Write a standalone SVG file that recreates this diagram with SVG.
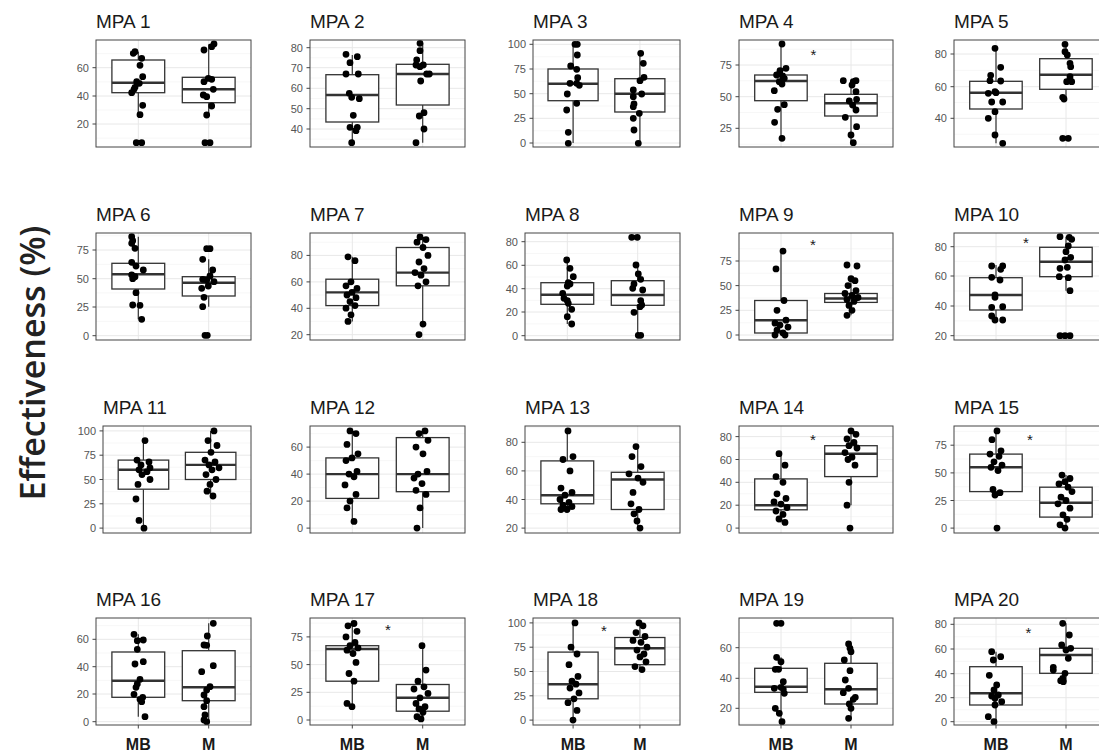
<svg xmlns="http://www.w3.org/2000/svg" width="1099" height="755" viewBox="0 0 1099 755">
<style>
.bg{fill:#fff}
.gmaj{stroke:#e8e8e8;stroke-width:1;fill:none}
.gmin{stroke:#f4f4f4;stroke-width:0.7;fill:none}
.frame{fill:none;stroke:#444;stroke-width:1}
.box{fill:#fff;stroke:#333;stroke-width:1.3}
.med{stroke:#333;stroke-width:2.4;fill:none}
.wh{stroke:#333;stroke-width:1.2;fill:none}
.pts{fill:none;stroke:#000;stroke-width:6.8;stroke-linecap:round}
.tk{stroke:#444;stroke-width:1;fill:none}
.tl{font-family:"Liberation Sans",Arial,sans-serif;font-size:11px;fill:#555;text-anchor:end}
.ti{font-family:"Liberation Sans",Arial,sans-serif;font-size:19px;fill:#1a1a1a}
.xl{font-family:"Liberation Sans",Arial,sans-serif;font-size:16px;font-weight:bold;fill:#1a1a1a;text-anchor:middle}
.st{font-family:"Liberation Sans",Arial,sans-serif;font-size:15px;fill:#1a1a1a;text-anchor:middle}
.yl{font-family:"Open Sans","Liberation Sans",sans-serif;font-size:34px;font-weight:600;fill:#222;text-anchor:middle}
</style>
<rect width="1099" height="755" fill="#fff"/>
<text class="yl" transform="translate(45,363) rotate(-90)">Effectiveness (%)</text>

<g id="mpa1" transform="translate(96,40)">
<rect class="bg" width="155" height="107"/>
<path class="gmin" d="M0 13.6h155M0 41.9h155M0 70h155M0 98.1h155"/>
<path class="gmaj" d="M0 27.7h155M0 56h155M0 84h155M42.3 0v107M112.7 0v107"/>
<path class="wh" d="M42.3 11.7V20M42.3 52.7V75M112.7 4.3V37.3M112.7 62.7V75"/>
<rect class="box" x="15.9" y="20" width="52.8" height="32.7"/>
<rect class="box" x="86.3" y="37.3" width="52.8" height="25.4"/>
<path class="med" d="M15.9 42.7h52.8M86.3 49.3h52.8"/>
<path class="pts" d="M39 11.7h0M37.3 13.3h0M45.7 18.3h0M44 25.3h0M46.7 36.7h0M40.7 41.7h0M43.3 43.3h0M39 47.3h0M35.7 52.7h0M38 49.3h0M46.7 65.3h0M44 74.7h0M40.3 102.7h0M45.7 102.7h0M118 4h0M115.7 6.7h0M108 10h0M112.3 38.3h0M108 41.7h0M115.7 39.3h0M117.3 49.3h0M107.3 55h0M110.7 56.7h0M115.7 66h0M110.7 75h0M109 102.7h0M114 102.7h0"/>
<rect class="frame" width="155" height="107"/>
<path class="tk" d="M-3.5 27.7h3.5M-3.5 56h3.5M-3.5 84h3.5"/>
<text class="tl" x="-7" y="31.7">60</text><text class="tl" x="-7" y="60">40</text><text class="tl" x="-7" y="88">20</text>
<text class="ti" x="0" y="-12">MPA 1</text>
</g>

<g id="mpa2" transform="translate(310,40)">
<rect class="bg" width="155" height="107"/>
<path class="gmin" d="M0 17.7h155M0 38h155M0 58.5h155M0 78.9h155M0 99.1h155"/>
<path class="gmaj" d="M0 7.7h155M0 27.7h155M0 48.3h155M0 68.7h155M0 89h155M42.3 0v107M112.7 0v107"/>
<path class="wh" d="M42.3 15V34.7M42.3 82V102.7M112.7 3.3V24.3M112.7 65V102.7"/>
<rect class="box" x="15.9" y="34.7" width="52.8" height="47.3"/>
<rect class="box" x="86.3" y="24.3" width="52.8" height="40.7"/>
<path class="med" d="M15.9 55h52.8M86.3 34h52.8"/>
<path class="pts" d="M36 14.3h0M47.3 16.7h0M40 22.7h0M36 34h0M48.3 34h0M39.3 53.3h0M41.7 57.3h0M49.3 58.7h0M43.3 75.3h0M40 87.3h0M47.3 87.3h0M46 90.7h0M41.7 102.7h0M110 3.3h0M110 10.7h0M106.7 20h0M106 25h0M113.3 25h0M110 26.7h0M116.7 34h0M119.3 34h0M110.7 41h0M114 72.7h0M109.3 76h0M114 89h0M106 102.7h0"/>
<rect class="frame" width="155" height="107"/>
<path class="tk" d="M-3.5 7.7h3.5M-3.5 27.7h3.5M-3.5 48.3h3.5M-3.5 68.7h3.5M-3.5 89h3.5"/>
<text class="tl" x="-7" y="11.7">80</text><text class="tl" x="-7" y="31.7">70</text><text class="tl" x="-7" y="52.3">60</text><text class="tl" x="-7" y="72.7">50</text><text class="tl" x="-7" y="93">40</text>
<text class="ti" x="0" y="-12">MPA 2</text>
</g>

<g id="mpa3" transform="translate(533,40)">
<rect class="bg" width="147" height="107"/>
<path class="gmin" d="M0 16.7h147M0 41.3h147M0 66h147M0 90.7h147"/>
<path class="gmaj" d="M0 4.3h147M0 29h147M0 53.7h147M0 78.3h147M0 103h147M40.1 0v107M106.9 0v107"/>
<path class="wh" d="M40.1 4.3V29M40.1 60.7V103M106.9 13.3V38.7M106.9 72V103.3"/>
<rect class="box" x="15" y="29" width="50.1" height="31.7"/>
<rect class="box" x="81.8" y="38.7" width="50.1" height="33.3"/>
<path class="med" d="M15 43.7h50.1M81.8 53.7h50.1"/>
<path class="pts" d="M42 4.3h0M44.3 4.3h0M44.3 15h0M37.7 26h0M43.7 29.3h0M44.7 37.7h0M37 43.3h0M43.7 43.3h0M46.3 45.3h0M34.3 54h0M43.7 63.3h0M33.7 70h0M35.3 92.3h0M35.3 103.3h0M107.7 13.3h0M110.3 23.3h0M111 37.3h0M107 40.7h0M100.3 50h0M108.7 54h0M100.3 56.7h0M101 64h0M100.3 66.7h0M106.3 73.3h0M100.3 78.3h0M101 90h0M105.3 103.3h0"/>
<rect class="frame" width="147" height="107"/>
<path class="tk" d="M-3.5 4.3h3.5M-3.5 29h3.5M-3.5 53.7h3.5M-3.5 78.3h3.5M-3.5 103h3.5"/>
<text class="tl" x="-7" y="8.3">100</text><text class="tl" x="-7" y="33">75</text><text class="tl" x="-7" y="57.7">50</text><text class="tl" x="-7" y="82.3">25</text><text class="tl" x="-7" y="107">0</text>
<text class="ti" x="0" y="-12">MPA 3</text>
</g>

<g id="mpa4" transform="translate(739,40)">
<rect class="bg" width="154" height="107"/>
<path class="gmin" d="M0 9.2h154M0 40.8h154M0 72.5h154M0 104.2h154"/>
<path class="gmaj" d="M0 25h154M0 56.7h154M0 88.3h154M42 0v107M112 0v107"/>
<path class="wh" d="M42 3.3V35M42 60.7V98.3M112 40.7V54.3M112 76V103.3"/>
<rect class="box" x="15.7" y="35" width="52.5" height="25.7"/>
<rect class="box" x="85.7" y="54.3" width="52.5" height="21.7"/>
<path class="med" d="M15.7 41h52.5M85.7 63.3h52.5"/>
<path class="pts" d="M43 4h0M47 28.3h0M41 30.7h0M37.6 35h0M43.6 36h0M45.3 38.3h0M40.3 41.7h0M43 44h0M35.3 50.7h0M45.3 64.7h0M38.6 69.3h0M35.6 82.3h0M43 98.3h0M104.3 40.7h0M114.3 41.7h0M117 40.7h0M113 45h0M117 51.7h0M117.6 59.3h0M110.3 61h0M113.6 65h0M117 70h0M106.3 77.3h0M117.6 86.7h0M112 95h0M114.3 102.7h0"/>
<rect class="frame" width="154" height="107"/>
<path class="tk" d="M-3.5 25h3.5M-3.5 56.7h3.5M-3.5 88.3h3.5"/>
<text class="tl" x="-7" y="29">75</text><text class="tl" x="-7" y="60.7">50</text><text class="tl" x="-7" y="92.3">25</text>
<text class="st" x="74.3" y="20.3">*</text>
<text class="ti" x="0" y="-12">MPA 4</text>
</g>

<g id="mpa5" transform="translate(954,40)">
<rect class="bg" width="154" height="107"/>
<path class="gmin" d="M0 30.4h154M0 62.5h154M0 94.2h154"/>
<path class="gmaj" d="M0 14h154M0 46.7h154M0 78.3h154M42 0v107M112 0v107"/>
<path class="wh" d="M42 8.3V41.3M42 69V103.3M112 4.3V18.7M112 49.3V59"/>
<rect class="box" x="15.7" y="41.3" width="52.5" height="27.7"/>
<rect class="box" x="85.7" y="18.7" width="52.5" height="30.6"/>
<path class="med" d="M15.7 52.7h52.5M85.7 34.7h52.5"/>
<path class="pts" d="M41 8.3h0M46.7 27.3h0M36.7 35.3h0M36 40.7h0M46.7 41h0M41 51.7h0M34.3 53.3h0M42 52.7h0M37.7 62h0M48.7 62h0M41 71.7h0M34.3 78.3h0M41 95h0M48.7 103.3h0M111 4.3h0M111 11.7h0M113.3 15h0M116 23.3h0M116.7 26.7h0M116 36.7h0M117.7 41.7h0M112.7 41.7h0M108.7 57.3h0M110 59h0M108.7 98.3h0M114.3 98.3h0"/>
<rect class="frame" width="154" height="107"/>
<path class="tk" d="M-3.5 14h3.5M-3.5 46.7h3.5M-3.5 78.3h3.5"/>
<text class="tl" x="-7" y="18">80</text><text class="tl" x="-7" y="50.7">60</text><text class="tl" x="-7" y="82.3">40</text>
<text class="ti" x="0" y="-12">MPA 5</text>
</g>

<g id="mpa6" transform="translate(96,233)">
<rect class="bg" width="155" height="107"/>
<path class="gmin" d="M0 2.7h155M0 31.4h155M0 59.9h155M0 88.4h155"/>
<path class="gmaj" d="M0 17h155M0 45.7h155M0 74h155M0 102.7h155M42.3 0v107M112.7 0v107"/>
<path class="wh" d="M42.3 3.7V30.3M42.3 56V86.3M112.7 26.3V43.7M112.7 63V73.7"/>
<rect class="box" x="15.9" y="30.3" width="52.8" height="25.7"/>
<rect class="box" x="86.3" y="43.7" width="52.8" height="19.3"/>
<path class="med" d="M15.9 41.3h52.8M86.3 49.7h52.8"/>
<path class="pts" d="M35.7 3.7h0M36.7 7.7h0M35.7 10.3h0M39 15.3h0M35.7 29.3h0M40 33h0M47.3 37h0M35.7 42h0M39 43.7h0M36.7 45.7h0M40 59.7h0M36.7 72h0M44 72.3h0M45.7 86.3h0M114 15.7h0M110.7 15.7h0M106.7 26.3h0M116.7 37h0M114 43h0M106.7 46.3h0M110.7 47h0M118 48.7h0M105.7 55.3h0M112.3 53h0M108 64.3h0M106.7 73.7h0M109 102.3h0M111.3 102.3h0"/>
<rect class="frame" width="155" height="107"/>
<path class="tk" d="M-3.5 17h3.5M-3.5 45.7h3.5M-3.5 74h3.5M-3.5 102.7h3.5"/>
<text class="tl" x="-7" y="21">75</text><text class="tl" x="-7" y="49.7">50</text><text class="tl" x="-7" y="78">25</text><text class="tl" x="-7" y="106.7">0</text>
<text class="ti" x="0" y="-12">MPA 6</text>
</g>

<g id="mpa7" transform="translate(310,233)">
<rect class="bg" width="155" height="107"/>
<path class="gmin" d="M0 9.2h155M0 35.6h155M0 62h155M0 88.4h155"/>
<path class="gmaj" d="M0 22.4h155M0 48.9h155M0 75.3h155M0 101.7h155M42.3 0v107M112.7 0v107"/>
<path class="wh" d="M42.3 23.8V46.2M42.3 72.6V88.4M112.7 4V14.5M112.7 52.8V88.4"/>
<rect class="box" x="15.9" y="46.2" width="52.8" height="26.4"/>
<rect class="box" x="86.3" y="14.5" width="52.8" height="38.3"/>
<path class="med" d="M15.9 59.4h52.8M86.3 39.6h52.8"/>
<path class="pts" d="M38 23.8h0M45 27.7h0M41 48.8h0M36 52.8h0M47 55.4h0M42 59.4h0M37 62h0M46 64.7h0M40 68.6h0M45 72.6h0M36 75.2h0M41 81.8h0M38 88.4h0M110 4h0M116 6.6h0M107 9.2h0M113 14.5h0M118 22.4h0M109 29h0M114 35.6h0M105 39.6h0M111 42.2h0M116 48.8h0M108 52.8h0M113 91.1h0M109 101.6h0"/>
<rect class="frame" width="155" height="107"/>
<path class="tk" d="M-3.5 22.4h3.5M-3.5 48.9h3.5M-3.5 75.3h3.5M-3.5 101.7h3.5"/>
<text class="tl" x="-7" y="26.4">80</text><text class="tl" x="-7" y="52.9">60</text><text class="tl" x="-7" y="79.3">40</text><text class="tl" x="-7" y="105.7">20</text>
<text class="ti" x="0" y="-12">MPA 7</text>
</g>

<g id="mpa8" transform="translate(525,233)">
<rect class="bg" width="155" height="107"/>
<path class="gmin" d="M0 20.5h155M0 44h155M0 67.4h155M0 90.9h155"/>
<path class="gmaj" d="M0 8.7h155M0 32.3h155M0 55.7h155M0 79h155M0 102.7h155M42.3 0v107M112.7 0v107"/>
<path class="wh" d="M42.3 27V49.7M42.3 71.3V91M112.7 32V47.7M112.7 72.3V102.7"/>
<rect class="box" x="15.9" y="49.7" width="52.8" height="21.6"/>
<rect class="box" x="86.3" y="47.7" width="52.8" height="24.6"/>
<path class="med" d="M15.9 61.7h52.8M86.3 62h52.8"/>
<path class="pts" d="M41.7 27h0M45 35.3h0M48.3 43.7h0M43.3 49.7h0M45 51h0M42.3 53h0M37.7 60.3h0M39 65.3h0M42.3 67.7h0M43.3 70.3h0M46.7 76.3h0M42.3 83.7h0M46.7 91h0M106.7 4.3h0M112.3 4.3h0M111 32h0M113.3 41h0M115.7 46.3h0M109 51h0M107.7 55.3h0M117.7 57h0M115.7 67.7h0M116.7 72h0M115 73.7h0M109 79.3h0M113.3 102.3h0M115.7 102.3h0"/>
<rect class="frame" width="155" height="107"/>
<path class="tk" d="M-3.5 8.7h3.5M-3.5 32.3h3.5M-3.5 55.7h3.5M-3.5 79h3.5M-3.5 102.7h3.5"/>
<text class="tl" x="-7" y="12.7">80</text><text class="tl" x="-7" y="36.3">60</text><text class="tl" x="-7" y="59.7">40</text><text class="tl" x="-7" y="83">20</text><text class="tl" x="-7" y="106.7">0</text>
<text class="ti" x="0" y="-12">MPA 8</text>
</g>

<g id="mpa9" transform="translate(739,233)">
<rect class="bg" width="154" height="107"/>
<path class="gmin" d="M0 15.7h154M0 40.3h154M0 65h154M0 89.7h154"/>
<path class="gmaj" d="M0 28h154M0 52.6h154M0 77.3h154M0 102h154M42 0v107M112 0v107"/>
<path class="wh" d="M42 18.1V67.5M42 100V102M112 45.7V60.5M112 69.4V82.3"/>
<rect class="box" x="15.7" y="67.5" width="52.5" height="32.5"/>
<rect class="box" x="85.7" y="60.5" width="52.5" height="8.9"/>
<path class="med" d="M15.7 87.2h52.5M85.7 65.5h52.5"/>
<path class="pts" d="M44 18.1h0M37 35.9h0M45 67.5h0M38 77.3h0M47 87.2h0M36 90.2h0M41 92.1h0M49 94.1h0M38 97.1h0M44 100h0M36 102h0M46 102h0M108 32h0M118 33h0M112 45.7h0M116 47.7h0M109 52.6h0M117 57.6h0M106 60.5h0M113 62.5h0M119 64.5h0M108 66.5h0M115 68.4h0M110 72.4h0M113 77.3h0M108 82.3h0"/>
<rect class="frame" width="154" height="107"/>
<path class="tk" d="M-3.5 28h3.5M-3.5 52.6h3.5M-3.5 77.3h3.5M-3.5 102h3.5"/>
<text class="tl" x="-7" y="32">75</text><text class="tl" x="-7" y="56.6">50</text><text class="tl" x="-7" y="81.3">25</text><text class="tl" x="-7" y="106">0</text>
<text class="st" x="74" y="17">*</text>
<text class="ti" x="0" y="-12">MPA 9</text>
</g>

<g id="mpa10" transform="translate(954,233)">
<rect class="bg" width="154" height="107"/>
<path class="gmin" d="M0 28.4h154M0 58h154M0 87.9h154"/>
<path class="gmaj" d="M0 13.7h154M0 43h154M0 73h154M0 102.7h154M42 0v107M112 0v107"/>
<path class="wh" d="M42 32V44.7M42 77V87M112 3.7V14.3M112 43.7V57.7"/>
<rect class="box" x="15.7" y="44.7" width="52.5" height="32.3"/>
<rect class="box" x="85.7" y="14.3" width="52.5" height="29.4"/>
<path class="med" d="M15.7 62h52.5M85.7 28.7h52.5"/>
<path class="pts" d="M37.7 33h0M48.7 33h0M46.7 36.3h0M37.7 44.3h0M46 47h0M41 62h0M41 64.3h0M48.7 73.7h0M37.7 74.3h0M37.7 83h0M41 87h0M48.7 87h0M106 3.7h0M115.3 4.3h0M117.7 6.3h0M114.3 13h0M112 18.7h0M111 27h0M116.7 24.3h0M106 35.3h0M113.3 34.3h0M105.3 43.7h0M114.3 44.7h0M116 57.7h0M106 102.7h0M111 102.7h0M116 102.7h0"/>
<rect class="frame" width="154" height="107"/>
<path class="tk" d="M-3.5 13.7h3.5M-3.5 43h3.5M-3.5 73h3.5M-3.5 102.7h3.5"/>
<text class="tl" x="-7" y="17.7">80</text><text class="tl" x="-7" y="47">60</text><text class="tl" x="-7" y="77">40</text><text class="tl" x="-7" y="106.7">20</text>
<text class="st" x="72" y="15">*</text>
<text class="ti" x="0" y="-12">MPA 10</text>
</g>

<g id="mpa11" transform="translate(103,426)">
<rect class="bg" width="148" height="107"/>
<path class="gmin" d="M0 17h148M0 41.3h148M0 65.6h148M0 90h148"/>
<path class="gmaj" d="M0 4.9h148M0 29.2h148M0 53.5h148M0 77.8h148M0 102.1h148M40.4 0v107M107.6 0v107"/>
<path class="wh" d="M40.4 14.6V34.1M40.4 63.2V102.2M107.6 4.9V26.3M107.6 53.5V70"/>
<rect class="box" x="15.2" y="34.1" width="50.5" height="29.1"/>
<rect class="box" x="82.4" y="26.3" width="50.5" height="27.2"/>
<path class="med" d="M15.2 43.8h50.5M82.4 38.9h50.5"/>
<path class="pts" d="M42 14.6h0M34 34.1h0M46 36h0M38 38.9h0M47 41.8h0M36 43.8h0M44 45.7h0M39 48.6h0M47 53.5h0M35 58.4h0M33 73h0M36 94.4h0M41 102.2h0M111 4.9h0M105 14.6h0M114 19.5h0M108 26.3h0M102 34.1h0M112 36h0M106 38.9h0M116 41.8h0M109 43.8h0M103 48.6h0M113 53.5h0M107 58.4h0M104 65.2h0M110 70h0"/>
<rect class="frame" width="148" height="107"/>
<path class="tk" d="M-3.5 4.9h3.5M-3.5 29.2h3.5M-3.5 53.5h3.5M-3.5 77.8h3.5M-3.5 102.1h3.5"/>
<text class="tl" x="-7" y="8.9">100</text><text class="tl" x="-7" y="33.2">75</text><text class="tl" x="-7" y="57.5">50</text><text class="tl" x="-7" y="81.8">25</text><text class="tl" x="-7" y="106.1">0</text>
<text class="ti" x="0" y="-12">MPA 11</text>
</g>

<g id="mpa12" transform="translate(310,426)">
<rect class="bg" width="155" height="107"/>
<path class="gmin" d="M0 7.6h155M0 34.6h155M0 61.6h155M0 88.6h155"/>
<path class="gmaj" d="M0 21.1h155M0 48.1h155M0 75.1h155M0 102.1h155M42.3 0v107M112.7 0v107"/>
<path class="wh" d="M42.3 4.9V31.9M42.3 72.4V95.4M112.7 4.9V11.6M112.7 65.7V102.1"/>
<rect class="box" x="15.9" y="31.9" width="52.8" height="40.5"/>
<rect class="box" x="86.3" y="11.6" width="52.8" height="54.1"/>
<path class="med" d="M15.9 48.1h52.8M86.3 48.1h52.8"/>
<path class="pts" d="M40 4.9h0M46 7.6h0M37 18.4h0M48 27.8h0M42 31.9h0M36 34.6h0M47 45.4h0M39 48.1h0M44 50.8h0M35 58.9h0M46 68.4h0M40 75.1h0M37 81.9h0M44 95.4h0M115 4.9h0M109 7.6h0M118 14.3h0M106 21.1h0M113 27.8h0M117 45.4h0M108 48.1h0M104 52.1h0M112 57.6h0M106 64.3h0M116 68.4h0M110 81.9h0M107 102.1h0"/>
<rect class="frame" width="155" height="107"/>
<path class="tk" d="M-3.5 21.1h3.5M-3.5 48.1h3.5M-3.5 75.1h3.5M-3.5 102.1h3.5"/>
<text class="tl" x="-7" y="25.1">60</text><text class="tl" x="-7" y="52.1">40</text><text class="tl" x="-7" y="79.1">20</text><text class="tl" x="-7" y="106.1">0</text>
<text class="ti" x="0" y="-12">MPA 12</text>
</g>

<g id="mpa13" transform="translate(525,426)">
<rect class="bg" width="155" height="107"/>
<path class="gmin" d="M0 1.6h155M0 30.6h155M0 59.2h155M0 87.8h155"/>
<path class="gmaj" d="M0 16.3h155M0 44.9h155M0 73.5h155M0 102.1h155M42.3 0v107M112.7 0v107"/>
<path class="wh" d="M42.3 4.9V34.9M42.3 77.8V83.5M112.7 20.6V46.3M112.7 83.5V102.1"/>
<rect class="box" x="15.9" y="34.9" width="52.8" height="42.9"/>
<rect class="box" x="86.3" y="46.3" width="52.8" height="37.2"/>
<path class="med" d="M15.9 69.2h52.8M86.3 53.5h52.8"/>
<path class="pts" d="M43 4.9h0M48 30.6h0M38 33.5h0M45 44.9h0M36 62.1h0M47 66.4h0M40 69.2h0M35 73.5h0M44 76.4h0M38 79.2h0M47 80.7h0M36 83.5h0M42 83.5h0M111 20.6h0M107 30.6h0M116 40.6h0M104 47.8h0M113 52.1h0M118 56.3h0M108 66.4h0M106 77.8h0M114 83.5h0M109 87.8h0M112 95h0M115 102.1h0"/>
<rect class="frame" width="155" height="107"/>
<path class="tk" d="M-3.5 16.3h3.5M-3.5 44.9h3.5M-3.5 73.5h3.5M-3.5 102.1h3.5"/>
<text class="tl" x="-7" y="20.3">80</text><text class="tl" x="-7" y="48.9">60</text><text class="tl" x="-7" y="77.5">40</text><text class="tl" x="-7" y="106.1">20</text>
<text class="ti" x="0" y="-12">MPA 13</text>
</g>

<g id="mpa14" transform="translate(739,426)">
<rect class="bg" width="154" height="107"/>
<path class="gmin" d="M0 22h154M0 44.9h154M0 67.7h154M0 90.6h154"/>
<path class="gmaj" d="M0 10.6h154M0 33.5h154M0 56.3h154M0 79.2h154M0 102.1h154M42 0v107M112 0v107"/>
<path class="wh" d="M42 27.7V52.9M42 83.8V96.4M112 4.9V19.7M112 50.6V79.2"/>
<rect class="box" x="15.7" y="52.9" width="52.5" height="30.9"/>
<rect class="box" x="85.7" y="19.7" width="52.5" height="30.9"/>
<path class="med" d="M15.7 79.2h52.5M85.7 27.7h52.5"/>
<path class="pts" d="M40 27.7h0M46 39.2h0M37 50.6h0M44 56.3h0M38 67.8h0M47 72.4h0M35 75.9h0M42 78.1h0M48 81.5h0M37 85h0M44 88.4h0M40 93h0M46 96.4h0M112 4.9h0M117 8.3h0M108 12.9h0M115 16.3h0M110 19.7h0M118 22h0M106 26.6h0M113 31.2h0M109 33.5h0M116 39.2h0M110 56.3h0M108 79.2h0M111 102.1h0"/>
<rect class="frame" width="154" height="107"/>
<path class="tk" d="M-3.5 10.6h3.5M-3.5 33.5h3.5M-3.5 56.3h3.5M-3.5 79.2h3.5M-3.5 102.1h3.5"/>
<text class="tl" x="-7" y="14.6">80</text><text class="tl" x="-7" y="37.5">60</text><text class="tl" x="-7" y="60.3">40</text><text class="tl" x="-7" y="83.2">20</text><text class="tl" x="-7" y="106.1">0</text>
<text class="st" x="74" y="19">*</text>
<text class="ti" x="0" y="-12">MPA 14</text>
</g>

<g id="mpa15" transform="translate(954,426)">
<rect class="bg" width="154" height="107"/>
<path class="gmin" d="M0 5.4h154M0 33h154M0 60.7h154M0 88.3h154"/>
<path class="gmaj" d="M0 19.2h154M0 46.9h154M0 74.5h154M0 102.1h154M42 0v107M112 0v107"/>
<path class="wh" d="M42 4.9V28.1M42 65.6V69M112 49.1V61.2M112 91.1V102.1"/>
<rect class="box" x="15.7" y="28.1" width="52.5" height="37.5"/>
<rect class="box" x="85.7" y="61.2" width="52.5" height="29.9"/>
<path class="med" d="M15.7 41.3h52.5M85.7 76.7h52.5"/>
<path class="pts" d="M43 4.9h0M38 13.7h0M47 24.8h0M36 28.1h0M45 30.3h0M40 35.8h0M48 39.1h0M37 41.3h0M44 44.6h0M39 63.4h0M46 66.7h0M41 69h0M43 102.1h0M108 49.1h0M116 52.5h0M111 55.7h0M105 57.9h0M114 61.2h0M118 65.6h0M107 71.2h0M112 74.5h0M104 77.8h0M116 82.2h0M109 88.8h0M113 93.3h0M106 98.8h0M111 102.1h0"/>
<rect class="frame" width="154" height="107"/>
<path class="tk" d="M-3.5 19.2h3.5M-3.5 46.9h3.5M-3.5 74.5h3.5M-3.5 102.1h3.5"/>
<text class="tl" x="-7" y="23.2">75</text><text class="tl" x="-7" y="50.9">50</text><text class="tl" x="-7" y="78.5">25</text><text class="tl" x="-7" y="106.1">0</text>
<text class="st" x="76" y="19">*</text>
<text class="ti" x="0" y="-12">MPA 15</text>
</g>

<g id="mpa16" transform="translate(96,618)">
<rect class="bg" width="155" height="107"/>
<path class="gmin" d="M0 7.6h155M0 35h155M0 62.4h155M0 89.9h155"/>
<path class="gmaj" d="M0 21.3h155M0 48.7h155M0 76h155M0 103.7h155M42.3 0v107M112.7 0v107"/>
<path class="wh" d="M42.3 16.3V34M42.3 79.3V98.7M112.7 5.3V32.7M112.7 82.7V103.7"/>
<rect class="box" x="15.9" y="34" width="52.8" height="45.3"/>
<rect class="box" x="86.3" y="32.7" width="52.8" height="50"/>
<path class="med" d="M15.9 62.7h52.8M86.3 69.3h52.8"/>
<path class="pts" d="M38 16.3h0M41.3 22.7h0M47.3 22h0M41.3 31.3h0M39 46h0M47.3 43.7h0M44 61.3h0M41.3 66h0M40 69.3h0M38 76.3h0M46.7 79.3h0M44 81.3h0M45.7 83.7h0M49 98.7h0M117.3 5.3h0M111.3 18h0M108 27h0M110.7 27.3h0M117.3 47.7h0M105.7 53.7h0M114 68.7h0M110.7 72h0M108 77h0M110.7 82.7h0M108 88.7h0M109 97h0M108 102h0M110.7 103.7h0"/>
<rect class="frame" width="155" height="107"/>
<path class="tk" d="M-3.5 21.3h3.5M-3.5 48.7h3.5M-3.5 76h3.5M-3.5 103.7h3.5M42.3 107v3.5M112.7 107v3.5"/>
<text class="tl" x="-7" y="25.3">60</text><text class="tl" x="-7" y="52.7">40</text><text class="tl" x="-7" y="80">20</text><text class="tl" x="-7" y="107.7">0</text>
<text class="xl" x="42.3" y="132">MB</text><text class="xl" x="112.7" y="132">M</text>
<text class="ti" x="0" y="-12">MPA 16</text>
</g>

<g id="mpa17" transform="translate(310,618)">
<rect class="bg" width="155" height="107"/>
<path class="gmin" d="M0 5.1h155M0 32.7h155M0 60.4h155M0 88.2h155"/>
<path class="gmaj" d="M0 18.9h155M0 46.6h155M0 74.3h155M0 102h155M42.3 0v107M112.7 0v107"/>
<path class="wh" d="M42.3 5.5V27.7M42.3 63.2V88.7M112.7 27.7V66.5M112.7 93.2V102"/>
<rect class="box" x="15.9" y="27.7" width="52.8" height="35.5"/>
<rect class="box" x="86.3" y="66.5" width="52.8" height="26.7"/>
<path class="med" d="M15.9 31h52.8M86.3 79.8h52.8"/>
<path class="pts" d="M44 5.5h0M38 7.8h0M47 13.3h0M36 18.9h0M45 24.4h0M40 27.7h0M48 29.9h0M37 32.2h0M43 35.5h0M46 44.4h0M39 55.5h0M44 63.2h0M37 85.4h0M42 88.7h0M112 27.7h0M116 52.1h0M108 63.2h0M114 68.8h0M104 71h0M118 75.4h0M110 79.8h0M106 85.4h0M115 88.7h0M109 90.9h0M113 94.3h0M107 98.7h0M111 100.9h0"/>
<rect class="frame" width="155" height="107"/>
<path class="tk" d="M-3.5 18.9h3.5M-3.5 46.6h3.5M-3.5 74.3h3.5M-3.5 102h3.5M42.3 107v3.5M112.7 107v3.5"/>
<text class="tl" x="-7" y="22.9">75</text><text class="tl" x="-7" y="50.6">50</text><text class="tl" x="-7" y="78.3">25</text><text class="tl" x="-7" y="106">0</text>
<text class="st" x="78" y="17">*</text>
<text class="xl" x="42.3" y="132">MB</text><text class="xl" x="112.7" y="132">M</text>
<text class="ti" x="0" y="-12">MPA 17</text>
</g>

<g id="mpa18" transform="translate(533,618)">
<rect class="bg" width="147" height="107"/>
<path class="gmin" d="M0 17h147M0 41.3h147M0 65.6h147M0 90h147"/>
<path class="gmaj" d="M0 4.9h147M0 29.2h147M0 53.5h147M0 77.8h147M0 102.1h147M40.1 0v107M106.9 0v107"/>
<path class="wh" d="M40.1 4.9V34.1M40.1 80.8V102.1M106.9 4.9V19.5M106.9 46.7V51.6"/>
<rect class="box" x="15" y="34.1" width="50.1" height="46.7"/>
<rect class="box" x="81.8" y="19.5" width="50.1" height="27.2"/>
<path class="med" d="M15 66.2h50.1M81.8 30.2h50.1"/>
<path class="pts" d="M42 4.9h0M38 29.2h0M44 36h0M36 46.7h0M45 58.4h0M39 63.2h0M43 66.2h0M37 70.1h0M46 74.9h0M41 80.8h0M35 84.7h0M44 92.4h0M40 102.1h0M106 4.9h0M110 7.8h0M103 14.6h0M112 18.5h0M100 22.4h0M108 24.3h0M114 29.2h0M104 32.1h0M111 36h0M107 38.9h0M113 43.8h0M102 48.6h0M109 51.6h0"/>
<rect class="frame" width="147" height="107"/>
<path class="tk" d="M-3.5 4.9h3.5M-3.5 29.2h3.5M-3.5 53.5h3.5M-3.5 77.8h3.5M-3.5 102.1h3.5M40.1 107v3.5M106.9 107v3.5"/>
<text class="tl" x="-7" y="8.9">100</text><text class="tl" x="-7" y="33.2">75</text><text class="tl" x="-7" y="57.5">50</text><text class="tl" x="-7" y="81.8">25</text><text class="tl" x="-7" y="106.1">0</text>
<text class="st" x="71" y="18">*</text>
<text class="xl" x="40.1" y="132">MB</text><text class="xl" x="106.9" y="132">M</text>
<text class="ti" x="0" y="-12">MPA 18</text>
</g>

<g id="mpa19" transform="translate(739,618)">
<rect class="bg" width="154" height="107"/>
<path class="gmin" d="M0 14.5h154M0 45h154M0 75.3h154M0 105.4h154"/>
<path class="gmaj" d="M0 29.7h154M0 60.3h154M0 90.3h154M42 0v107M112 0v107"/>
<path class="wh" d="M42 39.3V50.3M42 74.3V103.7M112 26V45.3M112 86V100.3"/>
<rect class="box" x="15.7" y="50.3" width="52.5" height="24"/>
<rect class="box" x="85.7" y="45.3" width="52.5" height="40.7"/>
<path class="med" d="M15.7 68.7h52.5M85.7 71.3h52.5"/>
<path class="pts" d="M37.6 5.3h0M42 5.3h0M37.6 39.3h0M42 43.7h0M36.3 51.3h0M39.6 51.3h0M44.3 63.7h0M35.3 70.3h0M42 69.3h0M44.3 71.3h0M45.3 75.3h0M36.3 90.3h0M40.3 95.3h0M43 103.7h0M109.6 26h0M111 30.3h0M112 33.7h0M105.3 42h0M111 52.7h0M106.3 62h0M109.6 70.3h0M104.3 74.7h0M116.3 79.3h0M114.3 81.3h0M110.3 86h0M112 90.3h0M109.6 100.3h0"/>
<rect class="frame" width="154" height="107"/>
<path class="tk" d="M-3.5 29.7h3.5M-3.5 60.3h3.5M-3.5 90.3h3.5M42 107v3.5M112 107v3.5"/>
<text class="tl" x="-7" y="33.7">60</text><text class="tl" x="-7" y="64.3">40</text><text class="tl" x="-7" y="94.3">20</text>
<text class="xl" x="42" y="132">MB</text><text class="xl" x="112" y="132">M</text>
<text class="ti" x="0" y="-12">MPA 19</text>
</g>

<g id="mpa20" transform="translate(954,618)">
<rect class="bg" width="154" height="107"/>
<path class="gmin" d="M0 18.7h154M0 43.4h154M0 67.7h154M0 91.7h154"/>
<path class="gmaj" d="M0 6.3h154M0 31h154M0 55.7h154M0 79.7h154M0 103.7h154M42 0v107M112 0v107"/>
<path class="wh" d="M42 33.7V48.7M42 87V103.7M112 5.3V30.3M112 55.3V63.7"/>
<rect class="box" x="15.7" y="48.7" width="52.5" height="38.3"/>
<rect class="box" x="85.7" y="30.3" width="52.5" height="25"/>
<path class="med" d="M15.7 75.3h52.5M85.7 37h52.5"/>
<path class="pts" d="M37.7 33.7h0M39.3 42h0M46.7 38.7h0M35.3 57.3h0M42.7 67h0M40 72h0M37.7 78h0M44.3 77h0M41 80.3h0M47.7 83.7h0M41 87h0M34.3 98.7h0M40 103.7h0M108.7 5.3h0M115.3 17h0M107.7 27h0M116.7 30.3h0M112 32h0M114.3 40.3h0M99.3 49.3h0M99.3 52h0M111 55.3h0M108.7 60.3h0M106.7 62.7h0M109.3 63.7h0"/>
<rect class="frame" width="154" height="107"/>
<path class="tk" d="M-3.5 6.3h3.5M-3.5 31h3.5M-3.5 55.7h3.5M-3.5 79.7h3.5M-3.5 103.7h3.5M42 107v3.5M112 107v3.5"/>
<text class="tl" x="-7" y="10.3">80</text><text class="tl" x="-7" y="35">60</text><text class="tl" x="-7" y="59.7">40</text><text class="tl" x="-7" y="83.7">20</text><text class="tl" x="-7" y="107.7">0</text>
<text class="st" x="74.3" y="20">*</text>
<text class="xl" x="42" y="132">MB</text><text class="xl" x="112" y="132">M</text>
<text class="ti" x="0" y="-12">MPA 20</text>
</g>
</svg>
